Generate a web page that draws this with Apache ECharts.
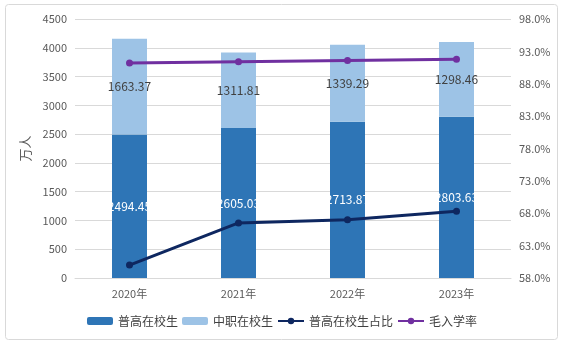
<!DOCTYPE html>
<html><head><meta charset="utf-8">
<script src="https://cdn.jsdelivr.net/npm/echarts@6/dist/echarts.min.js"></script>
<style>html,body{margin:0;padding:0;background:#fff}#c{width:564px;height:344px}</style>
</head><body><div id="c"></div>
<script>
var categories = ['2020年','2021年','2022年','2023年'];
var generalHigh = [2494.45, 2605.03, 2713.87, 2803.63];
var vocational = [1663.37, 1311.81, 1339.29, 1298.46];
var generalShare = [60.0, 66.5, 67.0, 68.3];
var grossRate = [91.2, 91.4, 91.6, 91.8];

var chart = echarts.init(document.getElementById('c'));
var font = 'Microsoft YaHei, "Noto Sans CJK SC", sans-serif';
chart.setOption({
  animation: false,
  textStyle: {fontFamily: font},
  graphic: [{type:'rect', shape:{x:5.5,y:4.5,width:552,height:335,r:3}, style:{fill:'none',stroke:'#D9D9D9',lineWidth:1}, z:-1}],
  grid: {left:75, right:53, top:19, bottom:66},
  legend: {
    bottom: 12, left: 'center', itemGap: 4, itemWidth: 26, itemHeight: 8,
    textStyle: {color:'#404040', fontSize:12},
    data: ['普高在校生','中职在校生','普高在校生占比','毛入学率']
  },
  xAxis: {
    type:'category', data: categories,
    axisLine:{lineStyle:{color:'#D9D9D9'}}, axisTick:{show:false},
    axisLabel:{color:'#595959', fontSize:11, margin:10}
  },
  yAxis: [{
    type:'value', min:0, max:4500, interval:500, name:'万人', nameLocation:'middle', nameGap:38,
    nameTextStyle:{color:'#595959', fontSize:13},
    axisLine:{show:false}, axisTick:{show:false},
    axisLabel:{color:'#595959', fontSize:11, margin:8, formatter:function(v){return String(v);}},
    splitLine:{lineStyle:{color:'#D9D9D9'}}
  },{
    type:'value', min:58, max:98, interval:5, position:'right',
    axisLine:{show:false}, axisTick:{show:false},
    axisLabel:{color:'#595959', fontSize:11, margin:8, formatter:function(v){return v.toFixed(1)+'%';}},
    splitLine:{show:false}
  }],
  series: [{
    name:'普高在校生', type:'bar', stack:'s', barWidth:35, data: generalHigh,
    itemStyle:{color:'#2E75B6'},
    label:{show:true, position:'inside', color:'#fff', fontSize:12, formatter:function(p){return p.value.toFixed(2);}}
  },{
    name:'中职在校生', type:'bar', stack:'s', barWidth:35, data: vocational,
    itemStyle:{color:'#9DC3E6'},
    label:{show:true, position:'inside', color:'#404040', fontSize:12, formatter:function(p){return p.value.toFixed(2);}}
  },{
    name:'普高在校生占比', type:'line', yAxisIndex:1, data: generalShare,
    symbol:'circle', symbolSize:7, lineStyle:{width:3, color:'#0E2760'}, itemStyle:{color:'#0E2760'}
  },{
    name:'毛入学率', type:'line', yAxisIndex:1, data: grossRate,
    symbol:'circle', symbolSize:7, lineStyle:{width:3, color:'#7030A0'}, itemStyle:{color:'#7030A0'}
  }]
});
</script></body></html>
